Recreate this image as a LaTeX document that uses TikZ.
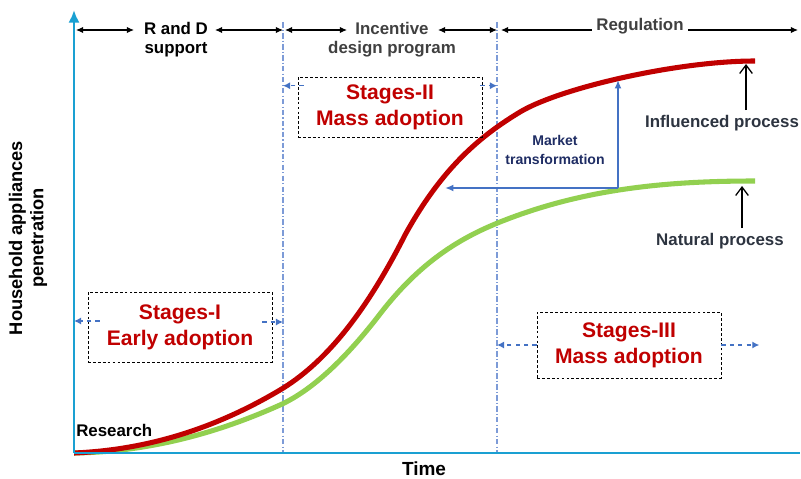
\documentclass[tikz,border=0pt]{standalone}
\usepackage{fontspec}
\setmainfont{Liberation Sans}
\usetikzlibrary{arrows.meta,calc,positioning}
\definecolor{influencedColor}{RGB}{192,0,0}
\definecolor{naturalColor}{RGB}{146,208,80}
\definecolor{axisColor}{RGB}{26,160,210}
\definecolor{phaseColor}{RGB}{125,155,215}
\definecolor{marketColor}{RGB}{68,114,196}
\definecolor{navyColor}{RGB}{31,45,100}
\definecolor{policyColor}{RGB}{64,64,64}
\definecolor{processColor}{RGB}{45,52,64}
\tikzset{stagebox/.style={draw, dash pattern=on 2pt off 1.5pt, align=center, text=influencedColor, font=\bfseries\fontsize{15}{18.5}\selectfont, minimum width=4.6cm, minimum height=1.6cm}}
\tikzset{policy/.style={align=center, font=\bfseries\fontsize{12}{13.5}\selectfont, inner sep=1pt}}
\tikzset{process/.style={text=processColor, font=\bfseries\fontsize{12}{14}\selectfont}}
\tikzset{phase/.style={phaseColor, line width=0.8pt, dash pattern=on 4pt off 1.5pt on 0.8pt off 1.5pt}}
\tikzstyle{curve} = [line width=3.6pt, line cap=butt]
\tikzstyle{arrow} = [{Latex[length=5pt,width=4.5pt]}-{Latex[length=5pt,width=4.5pt]}]
\tikzstyle{stagearrow} = [marketColor, dashed, line width=0.9pt, -{Latex[length=5pt,width=5pt]}]

\begin{document}
\begin{tikzpicture}[x=0.025cm, y=-0.025cm]
	\useasboundingbox (0,0) rectangle (801,479);
	% Axes
		\coordinate (origin) at (74,453);
		\coordinate (ytop) at (74,10);
		\coordinate (xend) at (800,453);
		\coordinate (phaseAtop) at (283,22);
		\coordinate (phaseAbot) at (283,453);
		\coordinate (phaseBtop) at (497,22);
		\coordinate (phaseBbot) at (497,453);

		\draw [phase] (phaseAtop) -- (phaseAbot);
		\draw [phase] (phaseBtop) -- (phaseBbot);

	% Curves
		\draw [curve, naturalColor] (origin) .. controls (143,452) and (211,436) .. (280,405)
			.. controls (313,390) and (347,357) .. (380,314)
			.. controls (420,262) and (460,238) .. (500,222)
			.. controls (585,188) and (670,181) .. (755,181);
		\draw [curve, influencedColor] (origin) .. controls (143,450) and (211,431) .. (280,390)
			.. controls (322,365) and (363,318) .. (405,235)
			.. controls (443,166) and (482,135) .. (520,112)
			.. controls (560,88) and (677,61) .. (755,61);

		\draw [axisColor, line width=2pt, -{Latex[length=9pt,width=8pt]}] (origin) -- (ytop);
		\draw [axisColor, line width=2pt] (origin) -- (xend);

	% Nodes
		\node (ylabel) at (28,238) [rotate=90, align=center, font=\bfseries\fontsize{13}{15}\selectfont] {Household appliances\\ penetration};
		\node (time) at (424,469) [font=\bfseries\fontsize{13.5}{15}\selectfont] {Time};
		\node (research) at (76,430) [anchor=west, inner sep=0pt, font=\bfseries\fontsize{12}{14}\selectfont] {Research};

		\node (rnd) at (176,40) [policy] {R and D\\ support};
		\node (incentive) at (392,40) [policy, text=policyColor] {Incentive\\ design program};

		\node (stage1) at (180,327) [stagebox, minimum height=1.75cm] {Stages-I\\ Early adoption};
		\node (stage2) at (390,107) [stagebox, minimum height=1.5cm] {Stages-II\\ Mass adoption};
		\node (stage3) at (629,345) [stagebox, minimum height=1.65cm] {Stages-III\\ Mass adoption};

		\node (market) at (555,150) [align=center, text=navyColor, font=\bfseries\fontsize{10}{13}\selectfont] {Market\\ transformation};
		\node (influenced) at (722,123) [process] {Influenced process};
		\node (natural) at (720,241) [process] {Natural process};

		\coordinate (redend) at (746,64);
		\coordinate (greenend) at (742,186);
		\coordinate (marketcorner) at (618,188);
		\coordinate (marketup) at (618,80);
		\coordinate (marketleft) at (445,188);
		\coordinate (stage1left) at ($(stage1.west)+(12,-6)$);
		\coordinate (stage1right) at ($(stage1.east)+(-10,-5)$);
		\coordinate (stage2left) at ($(stage2.north west)+(6,9)$);
		\coordinate (stage2right) at ($(stage2.north east)+(-2,9)$);

		% Connectors
		\begin{scope}[black, line width=0.8pt]
		\draw [arrow] (76,30) coordinate (rndL) -- (134,30) coordinate (rndR);
		\draw [arrow] (215,30) coordinate (rndL2) -- (rndL2 -| phaseAtop);
		\draw [arrow] (285,30) coordinate (incL) -- (347,30) coordinate (incR);
		\draw [arrow] (438,30) coordinate (incL2) -- (incL2 -| phaseBtop);
		\draw [arrow] (501,30) coordinate (regL) -- (798,30) coordinate (regR);
		\node (regulation) at (640,26) [policy, fill=white, text=policyColor, inner xsep=3pt] {Regulation};
		\end{scope}

		\begin{scope}
		\draw [stagearrow] (stage1left) -- (stage1left -| origin);
		\draw [stagearrow] (stage1right) -- (stage1right -| phaseAbot);
		\draw [stagearrow] (stage2left) -- (stage2left -| phaseAtop);
		\draw [stagearrow] (stage2right) -- (stage2right -| phaseBtop);
		\draw [stagearrow] (stage3.west) -- (stage3.west -| phaseBbot);
		\draw [stagearrow] (stage3.east) -- ++(38,0);
		\end{scope}

		\begin{scope}[marketColor, line width=1.5pt]
		\draw [-{Latex[length=6pt,width=5pt]}] (marketcorner) -- (marketup);
		\draw [-{Latex[length=6pt,width=5pt]}] (marketcorner) -- (marketleft);
		\end{scope}

		\begin{scope}[black, line width=0.9pt, -{Straight Barb[length=6pt,width=9pt]}]
		\draw (influenced.north -| redend) -- (redend);
		\draw (natural.north -| greenend) -- (greenend);
		\end{scope}

\end{tikzpicture}
\end{document}
